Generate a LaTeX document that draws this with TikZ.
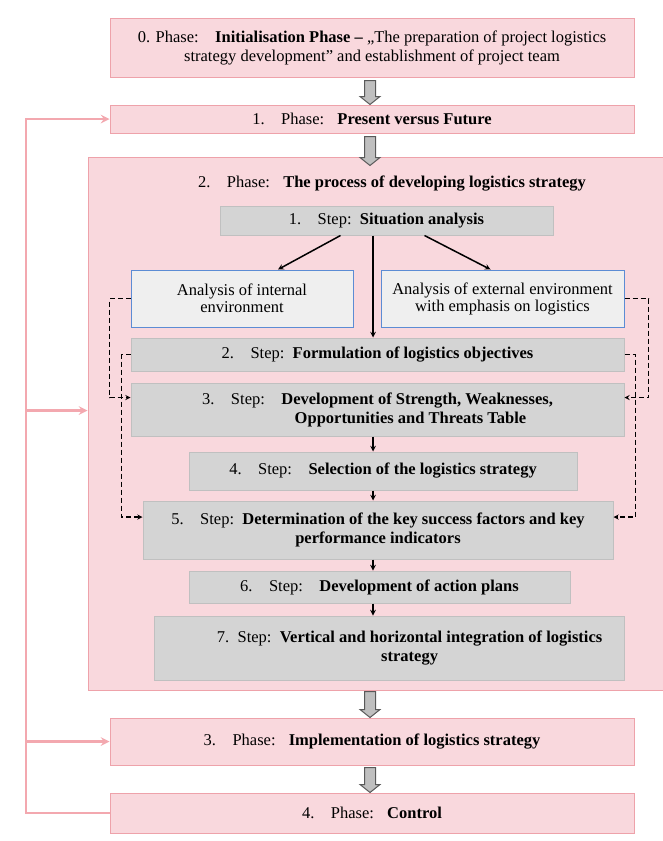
\documentclass[tikz,border=0pt]{standalone}
\usepackage{fontspec}
\setmainfont{Liberation Serif}
\usetikzlibrary{arrows}
\usetikzlibrary{positioning}
\usetikzlibrary{calc}
\usetikzlibrary{math}

\definecolor{phasepink}{RGB}{249,216,221}
\definecolor{phaseline}{RGB}{238,162,170}
\definecolor{stepgray}{RGB}{212,212,212}
\definecolor{stepline}{RGB}{192,192,192}
\definecolor{anafill}{RGB}{239,239,239}
\definecolor{analine}{RGB}{92,140,212}
\definecolor{fbpink}{RGB}{243,168,175}

\tikzstyle{phase} = [rectangle, draw=phaseline, fill=phasepink, line width=1pt, inner sep=0pt, align=center, font=\fontsize{16.5}{19}\selectfont]
\tikzstyle{stepbox} = [rectangle, draw=stepline, fill=stepgray, line width=1pt, inner sep=0pt, align=center, font=\fontsize{16.5}{19}\selectfont]
\tikzstyle{anabox} = [rectangle, draw=analine, fill=anafill, line width=1pt, inner sep=0pt, align=center, font=\fontsize{16.5}{17}\selectfont]
\tikzstyle{steparrow} = [->, >=stealth, line width=1.5pt]
\tikzstyle{dasharrow} = [->, >=stealth, line width=1.3pt, dash pattern=on 5pt off 3pt]
\tikzstyle{feedback} = [->, >=stealth, draw=fbpink, line width=2.8pt]
\tikzstyle{hollow} = [draw=black!65, fill=black!25, line width=1pt, line join=miter]

\newcommand{\hollowarrow}[2]{%
  \draw[hollow] ($(#1)+(-\sw,0)$) -- ($(#1)+(\sw,0)$) -- ($(#2)+(\sw,-\hl)$) -- ($(#2)+(\hw,-\hl)$) -- (#2) -- ($(#2)+(-\hw,-\hl)$) -- ($(#2)+(-\sw,-\hl)$) -- cycle;}

\begin{document}
\begin{tikzpicture}[x=1pt, y=-1pt]

  \tikzmath{\sw = 5.5; \hw = 10; \hl = 8;}

  \useasboundingbox (0,0) rectangle (662,841);

  % Phases
  \node[phase, minimum width=524pt, minimum height=59pt] (ph0) at (372,47.5) {0. Phase:\quad \textbf{Initialisation Phase –} „The preparation of project logistics\\ strategy development” and establishment of project team};
  \node[phase, minimum width=524pt, minimum height=28pt] (ph1) at (372,119) {1.\quad Phase:\hspace{0.8em}\textbf{Present versus Future}};
  \node[phase, minimum width=576pt, minimum height=533pt] (ph2) at (376,423.5) {};
  \node[font=\fontsize{16.5}{19}\selectfont] (ph2t) at (392,184) {2.\quad Phase:\hspace{0.8em}\textbf{The process of developing logistics strategy}};
  \node[phase, minimum width=524pt, minimum height=47pt] (ph3) at (372,741.5) {3.\quad Phase:\hspace{0.8em}\textbf{Implementation of logistics strategy}};
  \node[phase, minimum width=524pt, minimum height=40pt] (ph4) at (372,813) {4.\quad Phase:\hspace{0.8em}\textbf{Control}};

  % Steps of phase 2
  \node[stepbox, minimum width=333pt, minimum height=29pt] (s1) at (386.5,220.5) {1.\quad Step:\enspace \textbf{Situation analysis}};
  \node[anabox, minimum width=222pt, minimum height=57pt] (int) at (242,298.5) {Analysis of internal\\ environment};
  \node[anabox, minimum width=243pt, minimum height=57pt] (ext) at (502.5,298.5) {Analysis of external environment\\ with emphasis on logistics};
  \node[stepbox, minimum width=493pt, minimum height=33pt] (s2) at (377.5,354.5) {2.\quad Step:\enspace \textbf{Formulation of logistics objectives}};
  \node[stepbox, minimum width=493pt, minimum height=53pt] (s3) at (377.5,409.5) {3.\quad Step:\quad \textbf{Development of Strength, Weaknesses,}\\ \hspace{4em}\textbf{Opportunities and Threats Table}};
  \node[stepbox, minimum width=388pt, minimum height=38pt] (s4) at (383,471) {\raisebox{-4pt}{4.\quad Step:\quad \textbf{Selection of the logistics strategy}}};
  \node[stepbox, minimum width=470pt, minimum height=58pt] (s5) at (378,530) {5.\quad Step:\enspace \textbf{Determination of the key success factors and key}\\ \textbf{performance indicators}};
  \node[stepbox, minimum width=381pt, minimum height=32pt] (s6) at (379.5,587) {6.\quad Step:\quad \textbf{Development of action plans}};
  \node[stepbox, minimum width=470pt, minimum height=64pt] (s7) at (389,648) {\hspace{2.5em}7.\enspace Step:\enspace \textbf{Vertical and horizontal integration of logistics}\\ \hspace{2.5em}\textbf{strategy}};

  % Solid arrows
  \coordinate (col) at (373,0);
  \draw[steparrow] ($(s1.south)+(-46,0)$) -- ($(int.north)+(36,0)$);
  \draw[steparrow] ($(s1.south)+(38,0)$) -- ($(ext.north)+(-12,0)$);
  \draw[steparrow] (col |- s1.south) -- (col |- s2.north);
  \draw[steparrow] (col |- s3.south) -- (col |- s4.north);
  \draw[steparrow] (col |- s4.south) -- (col |- s5.north);
  \draw[steparrow] (col |- s5.south) -- (col |- s6.north);
  \draw[steparrow] (col |- s6.south) -- (col |- s7.north);

  % Dashed arrows
  \draw[dasharrow] (int.west) -- ++(-21,0) |- ($(s3.west)+(0,-12)$);
  \draw[dasharrow] (s2.west) -- ++(-9,0) |- ($(s5.west)+(0,-13)$);
  \draw[dasharrow] (ext.east) -- ++(24,0) |- ($(s3.east)+(0,-12)$);
  \draw[dasharrow] (s2.east) -- ++(11,0) |- ($(s5.east)+(0,-13)$);

  % Feedback line
  \coordinate (fbl) at (26,0);
  \coordinate (ph2in) at ($(ph2.west)+(0,-13)$);
  \draw[feedback] (ph4.west) -| (fbl |- ph1.west) -- (ph1.west);
  \draw[feedback] (fbl |- ph2in) -- (ph2in);
  \draw[feedback] (fbl |- ph3.west) -- (ph3.west);

  % Hollow arrows between phases
  \coordinate (h0a) at ($(ph0.south)+(-2,3)$);
  \coordinate (h0b) at (h0a |- ph1.north);
  \coordinate (h1a) at ($(ph1.south)+(-2,3)$);
  \coordinate (h1b) at ($(h1a |- ph2.north)+(0,9)$);
  \coordinate (h2a) at ($(h0a |- ph2.south)+(0,1)$);
  \coordinate (h2b) at (h0a |- ph3.north);
  \coordinate (h3a) at ($(h0a |- ph3.south)+(0,2)$);
  \coordinate (h3b) at (h0a |- ph4.north);
  \hollowarrow{h0a}{h0b}
  \hollowarrow{h1a}{h1b}
  \hollowarrow{h2a}{h2b}
  \hollowarrow{h3a}{h3b}

\end{tikzpicture}
\end{document}
